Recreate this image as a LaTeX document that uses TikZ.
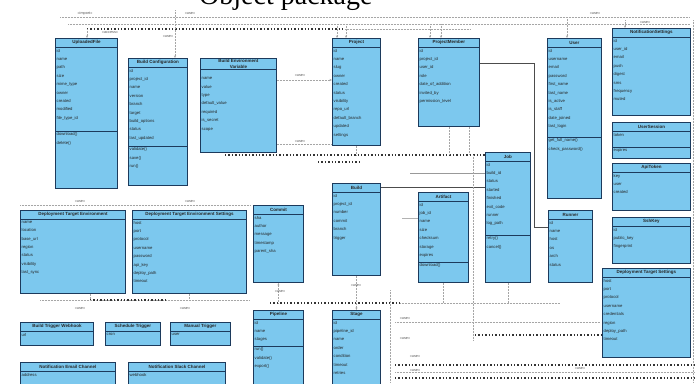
\documentclass[tikz,border=0pt]{standalone}
\usepackage{fontspec}
\setmainfont{Liberation Sans}
\newfontfamily\titlefont{Liberation Serif}
\usetikzlibrary{arrows.meta}
\definecolor{clsfill}{RGB}{124,200,238}
\definecolor{clsdraw}{RGB}{28,58,92}
\tikzset{x=1pt,y=-1pt,
 clsbox/.style={draw=clsdraw, line width=0.9pt, fill=clsfill, inner sep=0pt, rectangle},
 clstitle/.style={font=\fontsize{4.5}{5.5}\selectfont\bfseries, inner sep=1.2pt, align=center, text=black!85},
 clsattr/.style={font=\fontsize{4.2}{8.4}\selectfont, inner sep=1.5pt, align=left, text=black!85},
 lbl/.style={font=\fontsize{3.8}{4}\selectfont, text=black!65, inner sep=0.5pt},
 dep/.style={densely dotted, draw=black!35, line width=0.5pt},
 depheavy/.style={dash pattern=on 1.4pt off 2pt, draw=black!80, line width=1.2pt},
 assoc/.style={draw=black!70, line width=0.7pt},
 arr/.style={-{Stealth[length=2.5pt,width=2pt]}},
}
% \cls{name}{x}{y}{w}{h}{title}{attrs}{divider offset}{methods}
\newcommand\cls[9]{%
 \node[clsbox, minimum width=#4pt, minimum height=#5pt, anchor=north west] (#1) at (#2,#3) {};
 \node[clstitle, minimum height=9pt, anchor=north] (#1-t) at (#1.north) {#6};
 \draw[clsdraw, line width=0.7pt] (#1-t.south -| #1.west) -- (#1-t.south -| #1.east);
 \node[clsattr, anchor=north west] (#1-a) at (#1-t.south -| #1.west) {#7};
 \ifx\relax#8\relax\else
  \draw[clsdraw, line width=0.7pt] ([yshift=-#8pt]#1.north west) -- ([yshift=-#8pt]#1.north east);
  \node[clsattr, anchor=north west] (#1-m) at ([yshift=-#8pt]#1.north west) {#9};
 \fi}
\begin{document}
\begin{tikzpicture}
\useasboundingbox[fill=white] (0,0) rectangle (695,383);
\node[font=\titlefont\fontsize{28}{30}\selectfont, anchor=base west, inner sep=0pt] (title) at (199,4) {Object package};

% ---------- connectors (behind boxes) ----------
\coordinate (t1l) at (60,17); \coordinate (t1r) at (690,17);
\coordinate (t2l) at (68,24); \coordinate (t2r) at (690,24);
\coordinate (t3l) at (87,29); \coordinate (t3m) at (345,29); \coordinate (t3r) at (470,29);
\draw[dep] (t1l) -- (t1r);
\draw[dep] (t2l) -- (t2r);
\draw[depheavy] (t3l) -- (t3m);
\draw[dep] (t3m) -- (t3r);
\coordinate (rv1) at (693,20); \coordinate (rv2) at (693,383);
\draw[dep] (rv1) -- (rv2);
\coordinate (bv) at (175,10);
\coordinate (dd1) at (337,24); \coordinate (dd2) at (346,24);
\coordinate (ed1) at (430,24); \coordinate (ed2) at (441,24);
\coordinate (fd1) at (567,17); \coordinate (gd1) at (625,20);
\coordinate (m1) at (225,155); \coordinate (m2l) at (318,162); \coordinate (m2r) at (360,162);
\coordinate (ej) at (534,63); \coordinate (mj) at (534,227);
\coordinate (s1) at (410,173); \coordinate (s2) at (0,187); \coordinate (n1) at (402,218);
\coordinate (q0l) at (20,205); \coordinate (q0r) at (250,205);
\coordinate (b1l) at (40,300); \coordinate (b1r) at (250,300);
\coordinate (b1hl) at (90,300); \coordinate (b1hr) at (165,300);
\coordinate (b2l) at (270,303); \coordinate (b2m) at (400,303); \coordinate (b2r) at (560,303);
\coordinate (vx1) at (473,155); \coordinate (vx2) at (473,340);
\coordinate (k1) at (475,335);
\coordinate (u1l) at (395,322); \coordinate (u1r) at (600,322);
\coordinate (h1l) at (395,365); \coordinate (h1r) at (695,365);
\coordinate (h2l) at (395,372); \coordinate (h2r) at (695,372);
\coordinate (h3l) at (395,378); \coordinate (h3r) at (695,378);
\coordinate (lv1) at (390,290); \coordinate (lv2) at (390,383);

% ---------- classes ----------
\cls{A}{55}{38}{62}{150}{UploadedFile}{id\\name\\path\\size\\mime\_type\\owner\\created\\modified\\file\_type\_id}{93}{download()\\delete()}
\cls{B}{128}{58}{59}{127}{Build Configuration}{id\\project\_id\\name\\version\\branch\\target\\build\_options\\status\\last\_updated}{88}{validate()\\save()\\run()}
\cls{C}{200}{58}{76}{94}{Build Environment\\Variable}{\\name\\value\\type\\default\_value\\required\\is\_secret\\scope}{}{}
\cls{D}{332}{38}{48}{107}{Project}{id\\name\\slug\\owner\\created\\status\\visibility\\repo\_url\\default\_branch\\updated\\settings}{}{}
\cls{E}{418}{38}{61}{88}{ProjectMember}{id\\project\_id\\user\_id\\role\\date\_of\_addition\\invited\_by\\permission\_level}{}{}
\cls{F}{547}{38}{54}{160}{User}{id\\username\\email\\password\\first\_name\\last\_name\\is\_active\\is\_staff\\date\_joined\\last\_login}{99}{get\_full\_name()\\check\_password()}
\cls{G}{612}{28}{78}{87}{NotificationSettings}{id\\user\_id\\email\\push\\digest\\sms\\frequency\\muted}{}{}
\cls{H}{612}{122}{78}{36}{UserSession}{token}{25}{expires}
\cls{I}{612}{163}{78}{47}{ApiToken}{key\\user\\created}{}{}
\cls{J}{612}{217}{78}{46}{SshKey}{id\\public\_key\\fingerprint}{}{}
\cls{K}{602}{268}{88}{89}{Deployment Target Settings}{host\\port\\protocol\\username\\credentials\\region\\deploy\_path\\timeout}{}{}
\cls{L}{485}{152}{45}{130}{Job}{id\\build\_id\\status\\started\\finished\\exit\_code\\runner\\log\_path}{83}{retry()\\cancel()}
\cls{M}{548}{210}{44}{72}{Runner}{id\\name\\host\\os\\arch\\status}{}{}
\cls{N}{418}{192}{50}{90}{Artifact}{id\\job\_id\\name\\size\\checksum\\storage\\expires}{70}{download()}
\cls{O}{332}{183}{48}{92}{Build}{id\\project\_id\\number\\commit\\branch\\trigger}{}{}
\cls{P}{253}{205}{50}{77}{Commit}{sha\\author\\message\\timestamp\\parent\_sha}{}{}
\cls{Q}{20}{210}{105}{83}{Deployment Target Environment}{name\\location\\base\_url\\region\\status\\visibility\\last\_sync}{}{}
\cls{R}{132}{210}{114}{83}{Deployment Target Environment Settings}{host\\port\\protocol\\username\\password\\api\_key\\deploy\_path\\timeout}{}{}
\cls{S}{20}{322}{73}{23}{Build Trigger Webhook}{url}{}{}
\cls{T}{105}{322}{55}{23}{Schedule Trigger}{cron}{}{}
\cls{U}{170}{322}{60}{23}{Manual Trigger}{user}{}{}
\cls{V}{20}{362}{95}{30}{Notification Email Channel}{address}{}{}
\cls{W}{128}{362}{97}{30}{Notification Slack Channel}{webhook}{}{}
\cls{X}{253}{310}{50}{80}{Pipeline}{id\\name\\stages}{36}{run()\\validate()\\export()}
\cls{Y}{332}{310}{48}{80}{Stage}{id\\pipeline\_id\\name\\order\\condition\\timeout\\retries}{}{}

% ---------- connectors to boxes ----------
\draw[dep,arr] (t3l) -- (t3l |- A.north);
\draw[dep,arr] (bv) -- (bv |- B.north);
\draw[dep,arr] (dd1) -- (dd1 |- D.north);
\draw[dep,arr] (dd2) -- (dd2 |- D.north);
\draw[dep,arr] (ed1) -- (ed1 |- E.north);
\draw[dep,arr] (ed2) -- (ed2 |- E.north);
\draw[dep,arr] (fd1) -- (fd1 |- F.north);
\draw[dep,arr] (gd1) -- (gd1 |- G.north);
\draw[dep,arr] ([yshift=-22pt]C.north east) -- ([yshift=-42pt]D.north west);
\draw[dep] ([yshift=-86pt]C.north east) -- ([yshift=-106pt]D.north west);
\draw[depheavy] (m1) -- (m1 -| L.west);
\draw[depheavy] (m2l) -- (m2r);
\draw[dep] (D.south) -- (D.south |- m1);
\draw[dep] (E.south) -- (E.south |- m1);
\draw[dep] ([xshift=20pt]E.south) -- ([xshift=20pt]E.south |- m1);
\draw[assoc] (E.east |- ej) -- (ej) -- (mj) -- (mj -| M.west);
\draw[assoc,draw=black!40] (s1) -- (s1 -| L.west);
\draw[assoc] (O.east |- s2) -- (s2 -| L.west);
\draw[assoc,draw=black!30] (n1) -- (n1 -| N.west);
\draw[dep] (q0l) -- (q0r);
\draw[dep] (b1l) -- (b1r);
\draw[depheavy] (b1hl) -- (b1hr);
\draw[dep] (Q.south -| b1hl) -- (b1hl);
\draw[dep] (R.south) -- (R.south |- b1r);
\draw[depheavy] (b2l) -- (b2m);
\draw[dep] (b2m) -- (b2r);
\draw[dep,arr] (P.south |- b2l) -- (P.south);
\draw[dep,arr] (O.south) -- (Y.north);
\draw[dep] (N.south) -- (N.south |- b2m);
\draw[dep] (L.south) -- (L.south |- b2m);
\draw[dep] (vx1) -- (vx2);
\draw[depheavy] (k1) -- (k1 -| K.west);
\draw[dep] (u1l) -- (u1r);
\draw[depheavy] (h1l) -- (h1r);
\draw[dep] (h2l) -- (h2r);
\draw[depheavy] (h3l) -- (h3r);
\draw[dep] (lv1) -- (lv2);

% ---------- labels ----------
\node[lbl] (l1) at (85,14) {«import»};
\node[lbl] (l2) at (190,13) {«use»};
\node[lbl] (l3) at (110,32) {«access»};
\node[lbl] (l4) at (168,36) {«use»};
\node[lbl] (l5) at (595,13) {«use»};
\node[lbl] (l6) at (645,22) {«use»};
\node[lbl] (l7) at (300,75) {«use»};
\node[lbl] (l8) at (300,141) {«use»};
\node[lbl] (l9) at (80,201) {«use»};
\node[lbl] (l10) at (190,201) {«use»};
\node[lbl] (l11) at (80,308) {«use»};
\node[lbl] (l12) at (185,308) {«use»};
\node[lbl] (l13) at (280,291) {«use»};
\node[lbl] (l14) at (356,285) {«use»};
\node[lbl] (l15) at (405,318) {«use»};
\node[lbl] (l16) at (405,338) {«use»};
\node[lbl] (l17) at (415,356) {«use»};
\node[lbl] (l18) at (580,368) {«use»};
\node[lbl] (l19) at (415,370) {«use»};
\end{tikzpicture}
\end{document}
